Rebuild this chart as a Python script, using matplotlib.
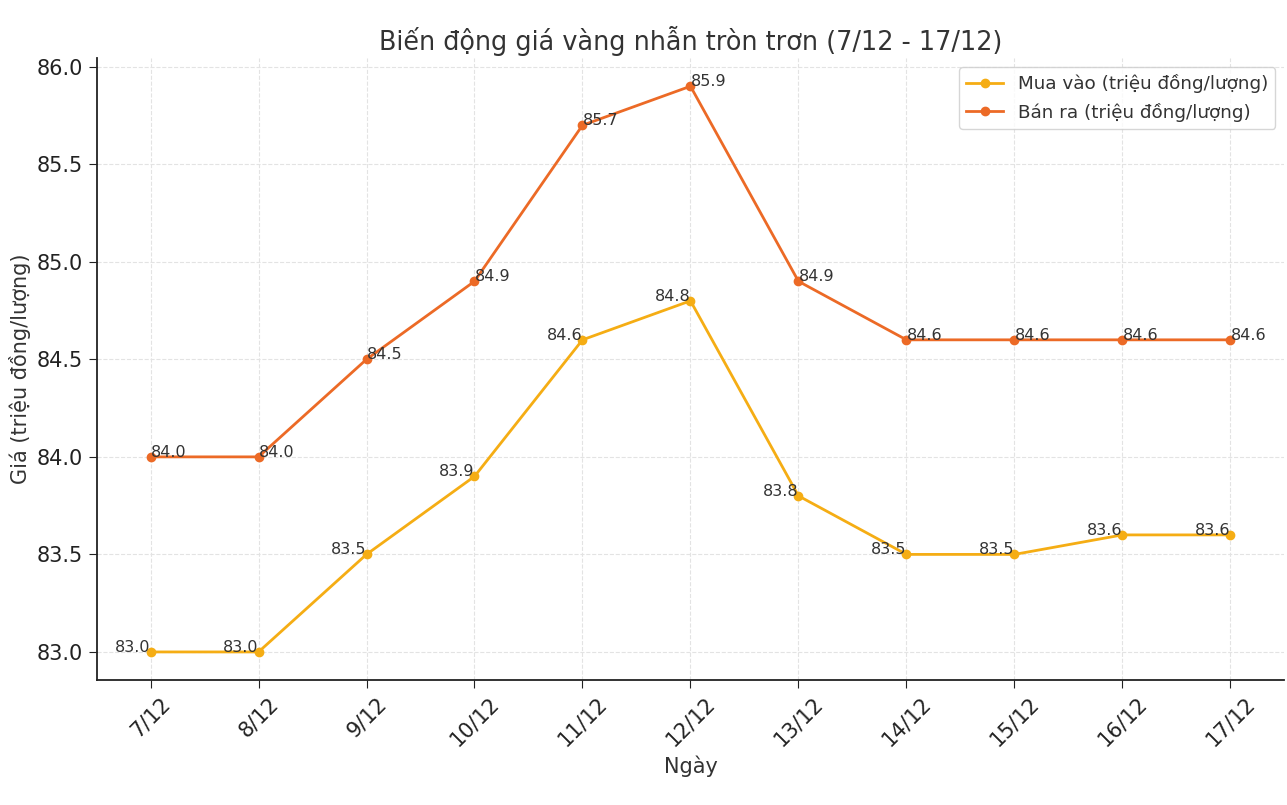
import matplotlib.pyplot as plt

ngay = ["7/12", "8/12", "9/12", "10/12", "11/12", "12/12", "13/12", "14/12", "15/12", "16/12", "17/12"]
mua_vao = [83.0, 83.0, 83.5, 83.9, 84.6, 84.8, 83.8, 83.5, 83.5, 83.6, 83.6]
ban_ra = [84.0, 84.0, 84.5, 84.9, 85.7, 85.9, 84.9, 84.6, 84.6, 84.6, 84.6]

plt.rcParams['font.family'] = ['DejaVu Sans']
plt.rcParams['text.color'] = '#333333'
plt.rcParams['axes.labelcolor'] = '#333333'

fig, ax = plt.subplots(figsize=(12.87, 8.05), dpi=100)
fig.subplots_adjust(left=0.075, right=0.998, top=0.928, bottom=0.155)

x = range(len(ngay))
ax.plot(x, mua_vao, marker='o', color='#F5AD14', linewidth=2, markersize=6,
        label='Mua vào (triệu đồng/lượng)')
ax.plot(x, ban_ra, marker='o', color='#EC6A26', linewidth=2, markersize=6,
        label='Bán ra (triệu đồng/lượng)')

for i, v in enumerate(mua_vao):
    ax.text(i, v, f"{v:.1f}", ha='right', va='baseline', fontsize=11.5, color='#333333')
for i, v in enumerate(ban_ra):
    ax.text(i, v, f"{v:.1f}", ha='left', va='baseline', fontsize=11.5, color='#333333')

ax.set_xticks(list(x))
ax.set_xticklabels(ngay, rotation=45, fontsize=15)
ax.tick_params(axis='y', labelsize=15)
ax.tick_params(colors='#222222', length=6)
ax.set_title("Biến động giá vàng nhẫn tròn trơn (7/12 - 17/12)", fontsize=18.4, color='#333333')
ax.set_xlabel("Ngày", fontsize=15)
ax.set_ylabel("Giá (triệu đồng/lượng)", fontsize=15)

ax.grid(True, linestyle='--', color='#e3e3e3', linewidth=0.8)
ax.spines['top'].set_visible(False)
ax.spines['right'].set_visible(False)
ax.spines['left'].set_linewidth(1.3)
ax.spines['bottom'].set_linewidth(1.3)
ax.spines['left'].set_color('#222222')
ax.spines['bottom'].set_color('#222222')

leg = ax.legend(loc='upper right', fontsize=13.2, frameon=True)
leg.get_frame().set_edgecolor('#cccccc')

fig.savefig("out.png", dpi=100)
